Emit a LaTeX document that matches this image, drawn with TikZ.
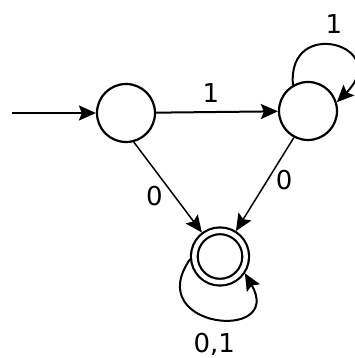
\documentclass[tikz,border=0pt]{standalone}
\usepackage{fontspec}
\setmainfont{DejaVu Sans}
\usepackage{tikz}
\usetikzlibrary{automata,positioning,arrows.meta}

\begin{document}
\begin{tikzpicture}[x=1pt, y=1pt, >={Stealth[length=17pt,width=15pt,inset=3pt]}, font=\fontsize{26}{30}\selectfont, every state/.style={draw, circle, line width=2.2pt, minimum size=58pt, inner sep=0pt}, accepting/.style={double, double distance=4.5pt, minimum size=51.4pt, outer sep=4.3pt}, trans/.style={->, line width=2pt}, diag/.style={->, line width=1.5pt}]
  \useasboundingbox (0,0) rectangle (354,358);
  \node[state] (q0) at (126,245) {};
  \node[state] (q1) at (308,247) {};
  \node[state, accepting] (q2) at (220,101.5) {};
  \coordinate (start) at (12,245);

  \draw[trans, line width=2.2pt] (start) -- (q0);
  \draw[trans] (q0) -- node[above=5pt, pos=0.45] {1} (q1);
  \draw[diag] (q0.-75) -- node[pos=0.6, left=8pt] {0} (q2.127);
  \draw[diag] (q1.242) -- node[pos=0.45, right=4pt] {0} (q2.58);
  \draw[trans] (q1.120) .. controls +(95:70pt) and +(45:80pt) .. (q1.17) node[pos=0.5, above=8pt] {1};
  \draw[trans] (q2.185) .. controls +(235:85pt) and +(300:80pt) .. (q2.-34) node[pos=0.5, below=11pt] {0,1};
\end{tikzpicture}
\end{document}
